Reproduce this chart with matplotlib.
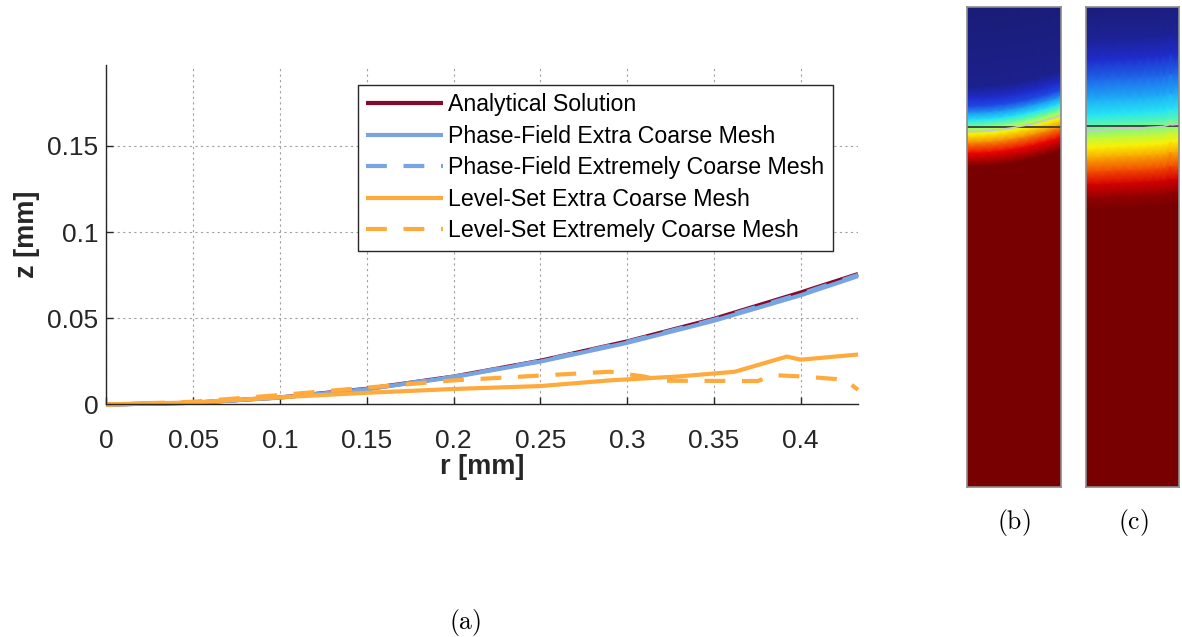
import numpy as np
import matplotlib.pyplot as plt
from matplotlib.colors import LinearSegmentedColormap

plt.rcParams['font.family'] = ['Liberation Sans', 'DejaVu Sans']
plt.rcParams['mathtext.fontset'] = 'cm'

# meniscus height z(r) [mm]
r_ana = [0, 0.05, 0.1, 0.15, 0.2, 0.25, 0.3, 0.35, 0.4, 0.433]
z_ana = [0, 0.0010, 0.0041, 0.0091, 0.0162, 0.0254, 0.0366, 0.0497, 0.0650, 0.0757]
z_pf_extra = [0, 0.0010, 0.0040, 0.0089, 0.0159, 0.0249, 0.0358, 0.0486, 0.0634, 0.0745]
z_pf_extreme = [0, 0.0010, 0.0041, 0.0090, 0.0161, 0.0252, 0.0363, 0.0492, 0.0642, 0.0752]

r_ls_extra = [0, 0.05, 0.1, 0.15, 0.2, 0.25, 0.29, 0.33, 0.362, 0.392, 0.40, 0.433]
z_ls_extra = [0, 0.0012, 0.0042, 0.0068, 0.0090, 0.0107, 0.0140, 0.0163, 0.0190, 0.0278, 0.0260, 0.0290]
r_ls_extreme = [0, 0.05, 0.1, 0.15, 0.2, 0.25, 0.29, 0.31, 0.32, 0.375, 0.385, 0.40, 0.42, 0.426, 0.433]
z_ls_extreme = [0, 0.0016, 0.0055, 0.0098, 0.0140, 0.0168, 0.0190, 0.0162, 0.0138, 0.0136, 0.0170, 0.0163, 0.0148, 0.0140, 0.0085]

labels = ['Analytical Solution',
          'Phase-Field Extra Coarse Mesh',
          'Phase-Field Extremely Coarse Mesh',
          'Level-Set Extra Coarse Mesh',
          'Level-Set Extremely Coarse Mesh']

r_ticks = [0, 0.05, 0.1, 0.15, 0.2, 0.25, 0.3, 0.35, 0.4]
r_tick_labels = ['0', '0.05', '0.1', '0.15', '0.2', '0.25', '0.3', '0.35', '0.4']
z_ticks = [0, 0.05, 0.1, 0.15]
z_tick_labels = ['0', '0.05', '0.1', '0.15']

# normalised field vs depth below the interface [mm]
depth_b = [-0.60, -0.207, -0.152, -0.115, -0.083, -0.051, -0.018, 0.014, 0.055, 0.101, 0.161, 1.80]
field_b = [0.0, 0.03, 0.10, 0.16, 0.27, 0.38, 0.50, 0.62, 0.74, 0.87, 1.0, 1.0]
depth_c = [-0.60, -0.415, -0.323, -0.230, -0.138, -0.069, -0.023, 0.037, 0.078, 0.129, 0.194, 0.253, 0.313, 0.369, 1.80]
field_c = [0.0, 0.04, 0.10, 0.20, 0.30, 0.38, 0.45, 0.56, 0.62, 0.70, 0.80, 0.90, 0.97, 1.0, 1.0]
z_line = 0.022

red = '#820A2A'
blue = '#78A5E1'
orange = '#FFAA3C'
ink = '#262626'
dash = (5.0, 4.0)

# jet-like map with a muted navy end
field_cmap = LinearSegmentedColormap.from_list('field', [
    (0.0, '#1a1c74'), (0.12, '#1f2fe0'), (0.37, '#1ee4ff'),
    (0.5, '#86ff7a'), (0.625, '#fff000'), (0.875, '#ec0000'), (1.0, '#780000')])

fig = plt.figure(figsize=(11.82, 6.37), dpi=100)
ax = fig.add_axes([0.0901, 0.3650, 0.6358, 0.5330])

kw = dict(lw=3.0, clip_on=False, solid_capstyle='butt', dash_capstyle='butt')
ax.plot(r_ana, z_ana, color=red, label=labels[0], **kw)
ax.plot(r_ana, z_pf_extra, color=blue, label=labels[1], **kw)
ax.plot(r_ana, z_pf_extreme, color=blue, dashes=dash, label=labels[2], **kw)
ax.plot(r_ls_extra, z_ls_extra, color=orange, label=labels[3], **kw)
ax.plot(r_ls_extreme, z_ls_extreme, color=orange, dashes=dash, label=labels[4], **kw)

ax.set_xlim(0, 0.433)
ax.set_ylim(0, 0.197)
ax.set_xticks(r_ticks, r_tick_labels)
ax.set_yticks(z_ticks, z_tick_labels)
ax.tick_params(direction='in', length=5, width=1, color=ink, labelcolor=ink, labelsize=19)
ax.tick_params(axis='x', pad=18)
ax.tick_params(axis='y', pad=6)
for s in ['top', 'right']:
    ax.spines[s].set_visible(False)
for s in ['left', 'bottom']:
    ax.spines[s].set_color(ink)
    ax.spines[s].set_linewidth(1.0)
ax.set_axisbelow(True)
ax.grid(True, linestyle=(0, (2, 3)), color='#a0a0a0', linewidth=0.8)

ax.set_xlabel('r [mm]', fontsize=19.5, weight='bold', color=ink)
ax.xaxis.label.set_va('center')
ax.xaxis.set_label_coords(0.5, (404.5 - 467) / 339.5)
ax.set_ylabel('z [mm]', fontsize=19.5, weight='bold', color=ink)
ax.yaxis.label.set_va('center')
ax.yaxis.set_label_coords((27 - 106.5) / 751.5, 0.5)

leg = ax.legend(loc='upper left', bbox_to_anchor=(0.3347, 0.941), borderaxespad=0,
                fontsize=16.7, fancybox=False, edgecolor=ink, framealpha=1,
                handlelength=3.3, handletextpad=0.25, borderpad=0.35, labelspacing=0.37)
leg.get_frame().set_linewidth(1.0)


def field_panel(rect, r, z, depth, field, top, bottom):
    pax = fig.add_axes(rect)
    r = np.asarray(r)
    z = np.asarray(z)
    depth = np.asarray(depth)
    X = np.tile(r, (len(depth), 1))
    Y = z[None, :] - depth[:, None]
    C = np.tile(np.asarray(field)[:, None], (1, len(r)))
    pax.pcolormesh(X, Y, C, shading='gouraud', cmap=field_cmap, vmin=0, vmax=1)
    pax.axhline(z_line, color='#3c3c3c', lw=1.3)
    pax.plot(r, z, color='#c8c8c8', lw=1.2)
    pax.set_xlim(r[0], r[-1])
    pax.set_ylim(bottom, top)
    pax.set_xticks([])
    pax.set_yticks([])
    for s in pax.spines.values():
        s.set_color('#8c8c8c')
        s.set_linewidth(1.2)
    return pax


field_panel([967 / 1182, 1 - 487 / 637, 94 / 1182, 480 / 637],
            r_ana, z_pf_extra, depth_b, field_b, 0.574, -1.638)
field_panel([1086 / 1182, 1 - 487 / 637, 93 / 1182, 480 / 637],
            r_ls_extra, z_ls_extra, depth_c, field_c, 0.569, -1.643)

fig.text(465 / 1182, 1 - 622 / 637, r'$\mathrm{(a)}$', fontsize=18.5, ha='center', va='center')
fig.text(1014 / 1182, 1 - 523 / 637, r'$\mathrm{(b)}$', fontsize=18.5, ha='center', va='center')
fig.text(1133 / 1182, 1 - 523 / 637, r'$\mathrm{(c)}$', fontsize=18.5, ha='center', va='center')

fig.savefig('out.png', dpi=100)
